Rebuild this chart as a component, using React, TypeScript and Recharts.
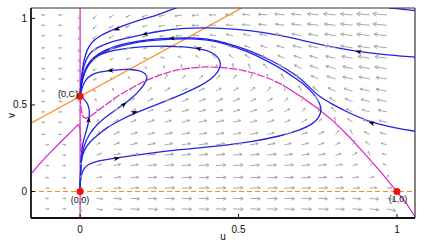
import { ComposedChart, Line, XAxis, YAxis, Label } from "recharts";

// Gleichgewicht (0,C)
const C = 0.55;
const uTicks = [0, 0.5, 1];
const vTicks = [0, 0.5, 1];

// Pfeilraster (Richtungsfeld)
const uGrid = [-0.11, -0.056, -0.002, 0.052, 0.106, 0.159, 0.213, 0.267, 0.321, 0.375, 0.429, 0.483, 0.537, 0.591, 0.645, 0.699, 0.752, 0.806, 0.86, 0.914, 0.968];
const vGrid = [1.02, 0.96, 0.9, 0.83, 0.77, 0.71, 0.65, 0.58, 0.52, 0.46, 0.4, 0.33, 0.27, 0.21, 0.15, 0.08, 0.02, -0.04, -0.1];

// Winkel in Grad (0 = rechts, 90 = oben), eine Zeile pro v
const fieldAngles = [
  [180, 180, 260, 229, 214, 206, 200, 195, 190, 185, 181, 178, 176, 175, 174, 174, 174, 174, 175, 175, 175],
  [180, 180, 258, 227, 212, 203, 196, 191, 186, 181, 178, 176, 174, 173, 172, 172, 173, 173, 173, 174, 174],
  [180, 180, 256, 222, 210, 200, 193, 187, 181, 175, 172, 169, 168, 168, 168, 169, 170, 171, 172, 173, 173],
  [180, 180, 253, 218, 205, 195, 187, 180, 171, 163, 160, 158, 159, 161, 164, 166, 168, 170, 171, 172, 173],
  [180, 180, 251, 214, 203, 191, 178, 165, 151, 139, 135, 138, 145, 152, 157, 162, 165, 168, 170, 171, 172],
  [180, 180, 245, 208, 195, 180, 150, 115, 97, 81, 82, 94, 111, 129, 143, 153, 160, 165, 168, 170, 172],
  [180, 180, 238, 195, 165, 140, 100, 60, 48, 43, 44, 53, 68, 92, 122, 143, 155, 162, 167, 169, 172],
  [180, 180, 200, 170, 110, 65, 42, 32, 28, 27, 29, 32, 39, 51, 76, 115, 142, 156, 163, 167, 170],
  [180, 180, 125, 118, 70, 40, 29, 24, 22, 21, 22, 24, 27, 33, 46, 75, 120, 147, 159, 166, 169],
  [180, 180, 95, 80, 40, 28, 22, 18, 17, 17, 17, 18, 19, 23, 30, 45, 82, 131, 154, 163, 168],
  [180, 180, 87, 58, 32, 22, 18, 15, 14, 13, 13, 14, 15, 17, 21, 28, 46, 98, 144, 160, 167],
  [180, 180, 80, 40, 24, 16, 13, 12, 11, 10, 10, 11, 12, 13, 15, 18, 26, 48, 117, 154, 165],
  [0, 0, 74, 31, 20, 13, 10, 9, 8, 8, 8, 8, 9, 10, 11, 13, 16, 26, 65, 143, 164],
  [0, 0, 65, 23, 14, 10, 8, 7, 6, 6, 6, 6, 6, 7, 8, 9, 11, 15, 29, 110, 161],
  [0, 0, 55, 16, 10, 7, 5, 5, 4, 4, 4, 4, 4, 5, 5, 6, 7, 9, 14, 41, 155],
  [0, 0, 35, 8, 5, 4, 3, 2, 2, 2, 2, 2, 2, 2, 2, 3, 3, 4, 5, 10, 60],
  [0, 0, 10, 1, 1, 1, 1, 1, 1, 1, 1, 1, 1, 1, 1, 1, 1, 1, 1, 2, 5],
  [0, 0, -20, -4, -3, -2, -1.5, -1, -1, -1, -1, -1, -1, -1, -1, -1.5, -2, -2, -3, -4, -8],
  [0, 0, -42, -10, -6, -4, -3.5, -3, -3, -2.5, -2.5, -2.5, -2.5, -2.5, -3, -3, -3.5, -4, -5, -7, -12],
];

// Pfeillaengen in px
const fieldLengths = [
  [3.5, 3.5, 4, 5, 5, 5, 6, 6, 7, 7, 7, 8, 8, 9, 10, 10, 11, 12, 12, 13, 14],
  [3.5, 3.5, 4, 5, 5, 5, 5, 6, 6, 7, 7, 7, 8, 9, 9, 10, 11, 11, 12, 13, 14],
  [3.5, 3.5, 4, 5, 5, 5, 5, 5, 6, 6, 6, 7, 7, 8, 9, 10, 10, 11, 12, 13, 13],
  [3.5, 3.5, 4, 4, 4, 4, 4, 4, 5, 5, 5, 6, 6, 7, 8, 9, 10, 11, 12, 12, 13],
  [3.5, 3.5, 3.5, 4, 4, 4, 4, 4, 4, 4, 5, 5, 6, 6, 7, 8, 9, 10, 11, 12, 12],
  [3.5, 3.5, 3, 4, 4, 3, 3, 3, 4, 4, 4, 5, 5, 6, 7, 8, 9, 10, 10, 11, 12],
  [3.5, 3.5, 3, 3, 3, 3, 4, 5, 5, 5, 5, 5, 5, 5, 6, 7, 8, 9, 10, 11, 11],
  [3.5, 3.5, 2.5, 3, 3, 4, 5, 6, 6, 6, 6, 6, 6, 5, 5, 6, 7, 8, 9, 10, 11],
  [3.5, 3.5, 2.5, 3, 4, 5, 6, 6, 7, 7, 7, 7, 6, 6, 5, 5, 6, 7, 8, 9, 10],
  [3.5, 3.5, 2.5, 3, 5, 6, 6, 7, 7, 7, 7, 7, 7, 6, 6, 5, 5, 6, 7, 8, 9],
  [3.5, 3.5, 3, 3, 5, 6, 7, 7, 8, 8, 8, 8, 7, 7, 6, 6, 5, 5, 6, 7, 8],
  [3.5, 3.5, 3, 4, 6, 7, 7, 8, 8, 8, 8, 8, 8, 7, 7, 6, 6, 5, 5, 6, 7],
  [3.5, 3.5, 3, 4, 6, 7, 8, 8, 9, 9, 9, 9, 8, 8, 7, 7, 6, 5, 5, 5, 6],
  [3.5, 3.5, 3, 5, 7, 8, 8, 9, 9, 9, 9, 9, 9, 9, 8, 8, 7, 6, 5, 4, 5],
  [3.5, 3.5, 3, 5, 7, 8, 9, 9, 9, 10, 10, 10, 9, 9, 9, 8, 8, 7, 5, 4, 4],
  [3.5, 3.5, 3, 5, 7, 8, 9, 9, 10, 10, 10, 10, 10, 10, 9, 9, 8, 7, 6, 4, 3],
  [3.5, 3.5, 3, 5, 7, 8, 9, 10, 10, 10, 10, 10, 10, 10, 10, 9, 9, 8, 7, 7, 5],
  [3.5, 3.5, 3, 6, 8, 9, 9, 10, 10, 10, 10, 10, 10, 10, 10, 10, 9, 9, 8, 9, 8],
  [3.5, 3.5, 3, 6, 8, 9, 10, 10, 10, 10, 10, 10, 10, 10, 10, 10, 10, 9, 9, 9, 9],
];

// Nullklinen
const uAxisNull = [[0, -0.153], [0, 1.06]];
const vAxisNull = [[-0.155, 0], [1.057, 0]];
const vLineNull = [[-0.155, 0.395], [0.51, 1.06]];
const uLeftNull = [[-0.155, 0.1], [-0.13, 0.155], [-0.1, 0.215], [-0.07, 0.27], [-0.04, 0.325], [-0.02, 0.36], [-0.009, 0.382], [-0.004, 0.385], [0, 0.36], [0.002, 0.3], [0.003, 0.22]];
const uRightNullDashed = [[0, 0.55], [0.002, 0.5], [0.005, 0.455], [0.01, 0.43], [0.018, 0.423], [0.03, 0.432], [0.05, 0.458], [0.08, 0.5], [0.116, 0.548], [0.15, 0.585], [0.2, 0.635], [0.25, 0.672], [0.3, 0.7], [0.35, 0.714], [0.4, 0.72], [0.45, 0.716], [0.5, 0.705], [0.55, 0.683], [0.6, 0.65], [0.64, 0.615]];
const uRightNullSolid = [[0.64, 0.615], [0.7, 0.545], [0.75, 0.48], [0.8, 0.405], [0.85, 0.315], [0.9, 0.215], [0.95, 0.11], [1.0, 0.0], [1.03, -0.07], [1.057, -0.146]];

// Trajektorien
const traj0 = [[0.975, 1.06], [1.0, 1.056], [1.03, 1.051], [1.057, 1.046]];
const traj1 = [[0.31, 1.065], [0.28, 1.045], [0.25, 1.025], [0.221, 1.006], [0.172, 0.983], [0.115, 0.943], [0.08, 0.915], [0.057, 0.893], [0.035, 0.86], [0.022, 0.82], [0.012, 0.76], [0.006, 0.69], [0.002, 0.62], [0, 0.55]];
const traj2 = [[1.057, 0.776], [0.95, 0.792], [0.878, 0.808], [0.8, 0.832], [0.72, 0.865], [0.631, 0.903], [0.536, 0.932], [0.431, 0.946], [0.326, 0.945], [0.246, 0.925], [0.204, 0.909], [0.141, 0.884], [0.09, 0.86], [0.05, 0.83], [0.025, 0.79], [0.012, 0.73], [0.005, 0.66], [0.001, 0.6], [0, 0.55]];
const traj3 = [[1.057, 0.348], [1.0, 0.366], [0.92, 0.396], [0.841, 0.46], [0.79, 0.51], [0.757, 0.545], [0.725, 0.6], [0.694, 0.656], [0.65, 0.71], [0.6, 0.76], [0.536, 0.815], [0.452, 0.864], [0.4, 0.882], [0.357, 0.889], [0.289, 0.887], [0.221, 0.879], [0.151, 0.86], [0.078, 0.822], [0.03, 0.76], [0.01, 0.68], [0.002, 0.6], [0, 0.55]];
const traj4 = [[0, 0], [0, 0.05], [0.004, 0.1], [0.012, 0.135], [0.025, 0.157], [0.05, 0.175], [0.1, 0.19], [0.16, 0.205], [0.221, 0.222], [0.3, 0.24], [0.431, 0.261], [0.55, 0.29], [0.631, 0.32], [0.694, 0.354], [0.735, 0.39], [0.755, 0.43], [0.762, 0.47], [0.757, 0.51], [0.74, 0.56], [0.71, 0.615], [0.678, 0.656], [0.635, 0.71], [0.59, 0.755], [0.53, 0.808], [0.452, 0.858], [0.4, 0.876], [0.357, 0.883], [0.289, 0.882], [0.221, 0.873], [0.151, 0.853], [0.078, 0.815], [0.03, 0.752], [0.01, 0.67], [0.002, 0.6], [0, 0.55]];
const traj5 = [[0, 0], [0.001, 0.08], [0.003, 0.18], [0.012, 0.24], [0.03, 0.285], [0.055, 0.325], [0.084, 0.37], [0.125, 0.41], [0.168, 0.45], [0.221, 0.487], [0.273, 0.525], [0.326, 0.565], [0.379, 0.61], [0.415, 0.65], [0.435, 0.69], [0.445, 0.73], [0.44, 0.765], [0.425, 0.795], [0.4, 0.815], [0.373, 0.826], [0.33, 0.836], [0.273, 0.84], [0.22, 0.839], [0.168, 0.833], [0.11, 0.818], [0.063, 0.795], [0.03, 0.755], [0.012, 0.69], [0.003, 0.62], [0, 0.55]];
const traj6 = [[0, 0], [0.001, 0.1], [0.004, 0.2], [0.012, 0.265], [0.028, 0.33], [0.053, 0.39], [0.095, 0.45], [0.139, 0.504], [0.17, 0.55], [0.189, 0.587], [0.205, 0.625], [0.213, 0.66], [0.205, 0.685], [0.185, 0.7], [0.16, 0.706], [0.13, 0.705], [0.095, 0.699], [0.06, 0.69], [0.035, 0.675], [0.016, 0.645], [0.006, 0.6], [0, 0.55]];
const traj7 = [[0, 0], [0.001, 0.1], [0.003, 0.2], [0.008, 0.28], [0.018, 0.34], [0.025, 0.386], [0.029, 0.43], [0.03, 0.473], [0.023, 0.512], [0.01, 0.537], [0, 0.55]];
const trajectories = [traj0, traj1, traj2, traj3, traj4, traj5, traj6, traj7];

// Pfeilspitzen auf den Trajektorien: u, v, Richtung
const trajArrows = [
  [0.116, 0.937, 204], [0.204, 0.909, 191], [0.878, 0.808, 170], [0.289, 0.885, 182],
  [0.92, 0.396, 160], [0.373, 0.826, 165], [0.172, 0.458, 27], [0.139, 0.504, 38],
  [0.095, 0.699, 180], [0.027, 0.415, 85], [0.116, 0.192, 12],
];

const eqPoints = [
  { u: 0, v: 0, name: "(0,0)" },
  { u: 0, v: C, name: "(0,C)" },
  { u: 1, v: 0, name: "(1,0)" },
];

const eqLabelPos: Record<string, { dx: number; dy: number; anchor: string }> = {
  "(0,0)": { dx: 0, dy: 11.5, anchor: "middle" },
  "(0,C)": { dx: -2, dy: 0.5, anchor: "end" },
  "(1,0)": { dx: 1, dy: 10, anchor: "middle" },
};

const pts = (arr: number[][]) => arr.map(([u, v]) => ({ u, v }));

const fieldData = vGrid.flatMap((v, j) =>
  uGrid.map((u, k) => ({ u, v, a: fieldAngles[j][k], len: fieldLengths[j][k] }))
);
const arrowData = trajArrows.map(([u, v, a]) => ({ u, v, a }));

const BLUE = "#2222e6";
const MAGENTA = "#e61ec8";
const ORANGE = "#ff8c1a";
const FONT = "'Liberation Sans', Arial, sans-serif";

const FieldArrow = (props: any) => {
  const { cx, cy, payload, index } = props;
  if (cx == null || cy == null) return <g key={`f${index}`} />;
  const a = (payload.a * Math.PI) / 180;
  const L = payload.len;
  const x2 = cx + L * Math.cos(a);
  const y2 = cy - L * Math.sin(a);
  const h = Math.max(1.5, L * 0.32);
  const b1 = a + Math.PI - 0.5;
  const b2 = a + Math.PI + 0.5;
  const d = `M${cx},${cy}L${x2},${y2}M${x2 + h * Math.cos(b1)},${y2 - h * Math.sin(b1)}L${x2},${y2}L${x2 + h * Math.cos(b2)},${y2 - h * Math.sin(b2)}`;
  return <path key={`f${index}`} d={d} stroke="#a8a8a8" strokeWidth={1} fill="none" />;
};

const TrajArrow = (props: any) => {
  const { cx, cy, payload, index } = props;
  if (cx == null || cy == null) return <g key={`t${index}`} />;
  const a = (payload.a * Math.PI) / 180;
  const ux = Math.cos(a);
  const uy = -Math.sin(a);
  const tipX = cx + 3 * ux;
  const tipY = cy + 3 * uy;
  const bx = cx - 3 * ux;
  const by = cy - 3 * uy;
  const d = `M${tipX},${tipY}L${bx - 2.3 * uy},${by + 2.3 * ux}L${cx - 1.5 * ux},${cy - 1.5 * uy}L${bx + 2.3 * uy},${by - 2.3 * ux}Z`;
  return <path key={`t${index}`} d={d} fill="#000" stroke="none" />;
};

const EqDot = (props: any) => {
  const { cx, cy, payload, index } = props;
  if (cx == null || cy == null) return <g key={`e${index}`} />;
  const pos = eqLabelPos[payload.name];
  return (
    <g key={`e${index}`}>
      <circle cx={cx} cy={cy} r={3.6} fill="#f01010" />
      <text x={cx + pos.dx} y={cy + pos.dy} textAnchor={pos.anchor} fontSize={9} fill="#111" fontFamily={FONT}>
        {payload.name}
      </text>
    </g>
  );
};

export default function App() {
  return (
    <div style={{ position: "absolute", left: 0, top: 0, background: "#fff", fontFamily: FONT }}>
      <ComposedChart width={445} height={244} margin={{ top: 7, right: 29, bottom: 25, left: 30 }}>
        <XAxis
          dataKey="u"
          type="number"
          domain={[-0.155, 1.057]}
          ticks={uTicks}
          allowDataOverflow
          height={1}
          tickSize={-4}
          tickMargin={12}
          interval={0}
          axisLine={{ stroke: "#111", strokeWidth: 1.8 }}
          tickLine={{ stroke: "#111" }}
          tick={{ fontSize: 10, fill: "#111" }}
        >
          <Label value="u" position="bottom" offset={14} fontSize={10} fill="#111" />
        </XAxis>
        <XAxis
          xAxisId="top"
          orientation="top"
          dataKey="u"
          type="number"
          domain={[-0.155, 1.057]}
          ticks={uTicks}
          allowDataOverflow
          height={1}
          tickSize={-4}
          tick={false}
          axisLine={{ stroke: "#333", strokeWidth: 1.2 }}
          tickLine={{ stroke: "#333" }}
        />
        <YAxis
          dataKey="v"
          type="number"
          domain={[-0.153, 1.06]}
          ticks={vTicks}
          allowDataOverflow
          width={1}
          tickSize={-4}
          tickMargin={8}
          interval={0}
          axisLine={{ stroke: "#111", strokeWidth: 1.8 }}
          tickLine={{ stroke: "#111" }}
          tick={{ fontSize: 10, fill: "#111" }}
        >
          <Label value="v" position="left" offset={19} angle={-90} fontSize={10} fill="#111" />
        </YAxis>
        <YAxis
          yAxisId="right"
          orientation="right"
          dataKey="v"
          type="number"
          domain={[-0.153, 1.06]}
          ticks={vTicks}
          allowDataOverflow
          width={1}
          tickSize={-4}
          tick={false}
          axisLine={{ stroke: "#333", strokeWidth: 1.2 }}
          tickLine={{ stroke: "#333" }}
        />

        <Line data={fieldData} dataKey="v" stroke="none" dot={FieldArrow} activeDot={false} isAnimationActive={false} />

        <Line data={pts(uAxisNull)} dataKey="v" type="linear" stroke={MAGENTA} strokeWidth={1.2} dot={false} activeDot={false} isAnimationActive={false} />
        <Line data={pts(uLeftNull)} dataKey="v" type="linear" stroke={MAGENTA} strokeWidth={1.2} dot={false} activeDot={false} isAnimationActive={false} />
        <Line data={pts(uRightNullDashed)} dataKey="v" type="linear" stroke={MAGENTA} strokeWidth={1.2} strokeDasharray="8 1.5" dot={false} activeDot={false} isAnimationActive={false} />
        <Line data={pts(uRightNullSolid)} dataKey="v" type="linear" stroke={MAGENTA} strokeWidth={1.2} dot={false} activeDot={false} isAnimationActive={false} />
        <Line data={pts(vAxisNull)} dataKey="v" type="linear" stroke={ORANGE} strokeWidth={1.2} strokeDasharray="5 3" dot={false} activeDot={false} isAnimationActive={false} />
        <Line data={pts(vLineNull)} dataKey="v" type="linear" stroke={ORANGE} strokeWidth={1.2} dot={false} activeDot={false} isAnimationActive={false} />

        {trajectories.map((t, i) => (
          <Line key={`traj${i}`} data={pts(t)} dataKey="v" type="basis" stroke={BLUE} strokeWidth={1.3} dot={false} activeDot={false} isAnimationActive={false} />
        ))}

        <Line data={arrowData} dataKey="v" stroke="none" dot={TrajArrow} activeDot={false} isAnimationActive={false} />
        <Line data={eqPoints} dataKey="v" stroke="none" dot={EqDot} activeDot={false} isAnimationActive={false} />
      </ComposedChart>
    </div>
  );
}
